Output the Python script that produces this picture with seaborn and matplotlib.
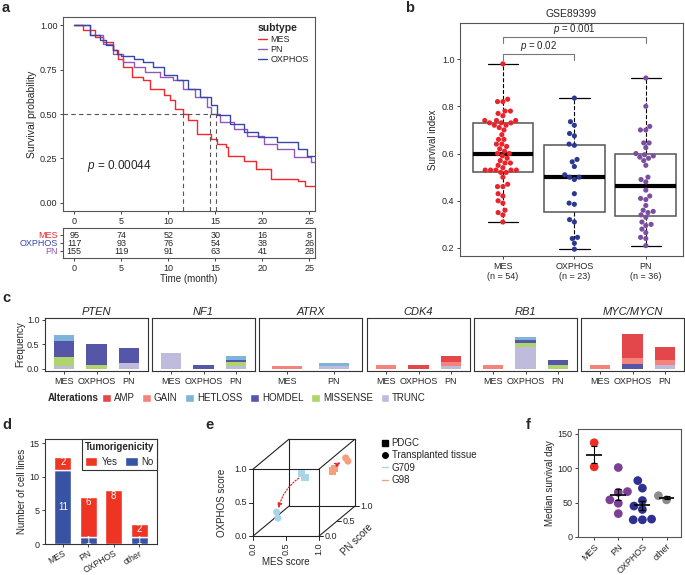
import numpy as np
import pandas as pd
import matplotlib
matplotlib.use("Agg")
import matplotlib.pyplot as plt
import seaborn as sns
from matplotlib.lines import Line2D
from matplotlib.patches import Patch

sns.set_style("ticks")
plt.rcParams["font.family"] = ["Liberation Sans", "DejaVu Sans"]
plt.rcParams["mathtext.fontset"] = "custom"
plt.rcParams["mathtext.it"] = "Liberation Sans:italic"
plt.rcParams["mathtext.rm"] = "Liberation Sans"
plt.rcParams["font.size"] = 6.5
plt.rcParams["axes.linewidth"] = 0.8
for k in ["xtick", "ytick"]:
    plt.rcParams[f"{k}.major.size"] = 2.5
    plt.rcParams[f"{k}.major.width"] = 0.6
    plt.rcParams[f"{k}.major.pad"] = 1.5
    plt.rcParams[f"{k}.labelsize"] = 6.5

# ---------------- data ----------------
# a: Kaplan-Meier curves (time in months, survival probability)
mes_t = [0, 0.96, 2.2, 3.1, 4.15, 4.7, 5.2, 6.1, 7.3, 8.05, 9.5, 10.2, 10.7, 11.6, 12.1, 13.0,
         14.5, 15.2, 16.1, 16.3, 18.1, 19.3, 20.9, 23.8, 24.5, 25.5]
mes_s = [1.0, 0.97, 0.933, 0.904, 0.858, 0.811, 0.764, 0.707, 0.689, 0.642, 0.604, 0.576, 0.53,
         0.5, 0.464, 0.389, 0.36, 0.332, 0.313, 0.266, 0.238, 0.191, 0.135, 0.125, 0.097, 0.097]
pn_t = [0, 1.67, 3.1, 4.15, 5.2, 6.3, 7.5, 9.1, 10.5, 11.6, 12.8, 14.1, 14.5, 15.5, 17.0, 18.4,
        20.2, 21.6, 23.4, 25.2, 25.5]
pn_s = [1.0, 0.942, 0.895, 0.839, 0.792, 0.764, 0.736, 0.707, 0.689, 0.642, 0.595, 0.539, 0.502,
        0.455, 0.417, 0.379, 0.332, 0.304, 0.257, 0.232, 0.232]
ox_t = [0, 1.67, 2.7, 3.4, 4.15, 4.5, 5.0, 6.3, 7.3, 8.4, 9.5, 10.9, 12.1, 13.4, 14.5, 15.2,
        16.6, 18.1, 19.5, 21.6, 23.8, 24.7, 25.5]
ox_s = [1.0, 0.942, 0.914, 0.886, 0.858, 0.839, 0.824, 0.811, 0.792, 0.764, 0.717, 0.689, 0.642,
        0.595, 0.548, 0.492, 0.445, 0.398, 0.370, 0.342, 0.304, 0.266, 0.266]
km_median = [11.6, 14.4, 15.1]
risk_times = [0, 5, 10, 15, 20, 25]
risk_mes = [95, 74, 52, 30, 16, 8]
risk_ox = [117, 93, 76, 54, 38, 26]
risk_pn = [155, 119, 91, 63, 41, 28]

# b: survival index
b_mes = [0.98, 0.83, 0.82, 0.82, 0.78, 0.78, 0.77, 0.76, 0.74, 0.74, 0.74, 0.73, 0.73, 0.73,
         0.72, 0.72, 0.71, 0.70, 0.68, 0.66, 0.66, 0.64, 0.64, 0.63, 0.62, 0.61, 0.60, 0.60, 0.59,
         0.58, 0.57, 0.56, 0.56, 0.55, 0.54, 0.53, 0.53, 0.53, 0.53, 0.53, 0.52, 0.52,
         0.50, 0.47, 0.46, 0.46, 0.43, 0.42, 0.40, 0.39, 0.36, 0.35, 0.34, 0.31]
b_ox = [0.835, 0.735, 0.72, 0.685, 0.675, 0.64, 0.635, 0.575, 0.565, 0.545, 0.51, 0.50, 0.50,
        0.49, 0.43, 0.39, 0.385, 0.32, 0.31, 0.245, 0.24, 0.22, 0.195]
b_pn = [0.92, 0.80, 0.715, 0.70, 0.70, 0.645, 0.645, 0.625, 0.60, 0.595, 0.59, 0.585, 0.58,
        0.57, 0.55, 0.50, 0.49, 0.48, 0.445, 0.42, 0.41, 0.405, 0.38, 0.36, 0.355, 0.35, 0.34,
        0.33, 0.31, 0.30, 0.295, 0.28, 0.265, 0.245, 0.24, 0.21]

# c: alteration frequencies; columns follow alt_order (stack bottom -> top)
alt_order = ["TRUNC", "MISSENSE", "HOMDEL", "HETLOSS", "GAIN", "AMP"]
legend_order = ["AMP", "GAIN", "HETLOSS", "HOMDEL", "MISSENSE", "TRUNC"]
genes = ["PTEN", "NF1", "ATRX", "CDK4", "RB1", "MYC/MYCN"]
gene_subtypes = {"PTEN": ["MES", "OXPHOS", "PN"], "NF1": ["MES", "OXPHOS", "PN"],
                 "ATRX": ["MES", "PN"], "CDK4": ["MES", "OXPHOS", "PN"],
                 "RB1": ["MES", "OXPHOS", "PN"], "MYC/MYCN": ["MES", "OXPHOS", "PN"]}
freq_PTEN = [[0.06, 0.18, 0.33, 0.12, 0, 0], [0, 0.07, 0.43, 0, 0, 0], [0.12, 0, 0.31, 0, 0, 0]]
freq_NF1 = [[0.32, 0, 0, 0, 0, 0], [0, 0, 0.08, 0, 0, 0], [0.06, 0.08, 0.05, 0.07, 0, 0]]
freq_ATRX = [[0, 0, 0, 0, 0.06, 0], [0.06, 0, 0, 0.065, 0, 0]]
freq_CDK4 = [[0, 0, 0, 0, 0.07, 0], [0, 0, 0, 0, 0, 0.08], [0.06, 0, 0, 0, 0.07, 0.13]]
freq_RB1 = [[0, 0, 0, 0, 0.07, 0], [0.45, 0.07, 0.07, 0.07, 0, 0], [0, 0.07, 0.12, 0, 0, 0]]
freq_MYC = [[0, 0, 0, 0, 0.07, 0], [0, 0, 0.09, 0, 0.13, 0.50], [0.07, 0, 0, 0, 0.12, 0.26]]
gene_freqs = {"PTEN": freq_PTEN, "NF1": freq_NF1, "ATRX": freq_ATRX, "CDK4": freq_CDK4,
              "RB1": freq_RB1, "MYC/MYCN": freq_MYC}
alt_colors = {"AMP": "#E4474B", "GAIN": "#F3837B", "HETLOSS": "#7EB3DA", "HOMDEL": "#5656A8",
              "MISSENSE": "#AED46B", "TRUNC": "#BFBBDD"}

# d: cell lines
d_groups = ["MES", "PN", "OXPHOS", "other"]
d_no = [11, 1, 0, 1]
d_yes = [2, 6, 8, 2]

# e: subtype scores (MES, PN, OXPHOS)
g709_pdgc = {"mes": [0.52, 0.57], "pn": [0.4, 0.4], "ox": [0.76, 0.70]}
g709_tissue = {"mes": [0.25, 0.27], "pn": [0.2, 0.2], "ox": [0.27, 0.18]}
g98_pdgc = {"mes": [0.82, 0.85], "pn": [0.7, 0.7], "ox": [0.66, 0.69]}
g98_tissue = {"mes": [0.97, 0.976], "pn": [0.8, 0.85], "ox": [0.81, 0.74]}

# f: median survival day
f_groups = ["MES", "PN", "OXPHOS", "other"]
f_mes = [137, 102]
f_pn = [101, 66, 65, 54, 49, 34]
f_ox = [82, 71, 53, 45, 40, 26, 25, 25]
f_other = [54, 60]

# ---------------- figure ----------------
W, H = 685, 575
fig = plt.figure(figsize=(W / 100, H / 100), dpi=100)


def add_ax(x0, y0, x1, y1):
    return fig.add_axes([x0 / W, 1 - y1 / H, (x1 - x0) / W, (y1 - y0) / H])


def frame(ax, color="#555555", lw=0.8):
    for sp in ax.spines.values():
        sp.set_visible(True)
        sp.set_color(color)
        sp.set_linewidth(lw)


def plabel(x, y, s):
    fig.text(x / W, 1 - y / H, s, fontsize=10.5, fontweight="bold", va="center", ha="left")


plabel(2, 8, "a"); plabel(405, 8, "b"); plabel(2, 298, "c")
plabel(2, 425, "d"); plabel(205, 425, "e"); plabel(526, 425, "f")

# ---- panel a ----
km_colors = {"MES": "#F2262B", "PN": "#9457B8", "OXPHOS": "#3A45A8"}
axA = add_ax(63, 17, 315, 211)
for name, t, s in [("MES", mes_t, mes_s), ("PN", pn_t, pn_s), ("OXPHOS", ox_t, ox_s)]:
    sns.lineplot(x=t, y=s, ax=axA, drawstyle="steps-post", color=km_colors[name], lw=1.0,
                 label=name)
axA.set_xlim(-1.2, 25.6)
axA.set_ylim(-0.045, 1.045)
axA.hlines(0.5, -1.2, max(km_median), colors="#555555", linestyles=(0, (4, 3)), lw=0.8)
axA.vlines(km_median, -0.045, 0.5, colors="#555555", linestyles=(0, (4, 3)), lw=0.8)
axA.set_xticks(risk_times)
axA.set_yticks([0, 0.25, 0.5, 0.75, 1.0])
axA.set_yticklabels(["0.00", "0.25", "0.50", "0.75", "1.00"])
axA.set_ylabel("Survival probability", fontsize=7.5, labelpad=2)
axA.set_xlabel("")
axA.text(1.4, 0.21, "$p$ = 0.00044", fontsize=8.5, va="center")
frame(axA)
leg = axA.legend(title="subtype", loc="upper right", frameon=False, handlelength=1.0,
                 fontsize=6.5, labelspacing=0.15, borderaxespad=0.3, handletextpad=0.4,
                 alignment="left", title_fontproperties={"weight": "bold", "size": 7.5})

axR = add_ax(63, 228, 315, 258)
axR.set_xlim(-1.2, 25.6)
axR.set_ylim(-0.875, 2.875)
for row, vals in [(2, risk_mes), (1, risk_ox), (0, risk_pn)]:
    for t, v in zip(risk_times, vals):
        axR.text(t, row, str(v), ha="center", va="center", fontsize=6.5)
axR.set_yticks([2, 1, 0])
axR.set_yticklabels(["MES", "OXPHOS", "PN"])
for lab, c in zip(axR.get_yticklabels(), [km_colors["MES"], km_colors["OXPHOS"], km_colors["PN"]]):
    lab.set_color(c)
axR.set_xticks(risk_times)
axR.set_xlabel("Time (month)", fontsize=7, labelpad=1)
frame(axR)

# ---- panel b ----
b_colors = {"MES": "#E8232A", "OXPHOS": "#2B3990", "PN": "#7B4FA0"}
b_order = ["MES", "OXPHOS", "PN"]
b_df = pd.DataFrame({"grp": ["MES"] * len(b_mes) + ["OXPHOS"] * len(b_ox) + ["PN"] * len(b_pn),
                     "val": b_mes + b_ox + b_pn})
axB = add_ax(460, 23, 683, 256)
sns.boxplot(data=b_df, x="grp", y="val", order=b_order, ax=axB, width=0.85, showfliers=False,
            color="white", linecolor="black", linewidth=1,
            boxprops=dict(facecolor="white", edgecolor="#555555", linewidth=1.1),
            medianprops=dict(color="black", linewidth=3),
            whiskerprops=dict(color="black", linestyle="--", linewidth=0.8),
            capprops=dict(color="black", linewidth=0.9))
sns.swarmplot(data=b_df, x="grp", y="val", order=b_order, hue="grp", palette=b_colors, size=3.7,
              ax=axB, legend=False, zorder=3)
axB.set_xlim(-0.6, 2.52)
axB.set_ylim(0.166, 1.153)
axB.set_yticks([0.2, 0.4, 0.6, 0.8, 1.0])
axB.set_yticklabels(["0.2", "0.4", "0.6", "0.8", "1.0"])
axB.set_xticks(range(3))
axB.set_xticklabels([f"{g}\n(n = {len(v)})" for g, v in zip(b_order, [b_mes, b_ox, b_pn])])
axB.set_xlabel("")
axB.set_ylabel("Survival index", fontsize=7, labelpad=3)
axB.set_title("GSE89399", fontsize=7.5, pad=4)
frame(axB)
brk = "#777777"
axB.plot([0, 0, 1, 1], [0.995, 1.022, 1.022, 0.995], color=brk, lw=0.8)
axB.text(0.5, 1.028, "$p$ = 0.02", ha="center", va="bottom", fontsize=7)
axB.plot([0, 0, 2, 2], [1.068, 1.093, 1.093, 1.068], color=brk, lw=0.8)
axB.text(1.0, 1.099, "$p$ = 0.001", ha="center", va="bottom", fontsize=7)

# ---- panel c ----
c_x = [45, 152, 259, 367, 474, 581]
for i, g in enumerate(genes):
    ax = add_ax(c_x[i], 318, c_x[i] + 103, 371)
    subs = gene_subtypes[g]
    fdf = pd.DataFrame(gene_freqs[g], index=subs, columns=alt_order)
    bottoms = np.zeros(len(subs))
    xs = np.arange(len(subs))
    for a in alt_order:
        vals = fdf[a].values
        ax.bar(xs, vals, bottom=bottoms, width=0.63, color=alt_colors[a], edgecolor="none")
        bottoms += vals
    ax.set_xlim(-0.6, len(subs) - 0.4)
    ax.set_ylim(-0.045, 1.04)
    ax.set_xticks(xs)
    ax.set_xticklabels(subs)
    ax.set_title(g, fontsize=8, style="italic", pad=2)
    frame(ax, "#333333", 0.8)
    if i == 0:
        ax.set_yticks([0, 0.5, 1.0])
        ax.set_yticklabels(["0.0", "0.5", "1.0"])
        ax.set_ylabel("Frequency", fontsize=7, labelpad=1)
    else:
        ax.set_yticks([])
fig.text(48 / W, 1 - 398 / H, "Alterations", fontsize=7, fontweight="bold", va="center")
fig.legend([Patch(facecolor=alt_colors[a]) for a in legend_order], legend_order, ncol=6,
           loc="center left", bbox_to_anchor=(102 / W, 1 - 398 / H), frameon=False,
           handlelength=0.9, handleheight=0.9, columnspacing=0.8, handletextpad=0.3,
           fontsize=7, borderaxespad=0, borderpad=0)

# ---- panel d ----
d_red, d_blue = "#EE3524", "#3953A4"
axD = add_ax(45, 439, 157, 544)
d_df = pd.DataFrame({"group": d_groups, "No": d_no, "Yes": d_yes})
sns.barplot(data=d_df, x="group", y="No", ax=axD, color=d_blue, width=0.68, saturation=1)
xs = np.arange(len(d_groups))
axD.bar(xs, d_df["Yes"], bottom=d_df["No"], width=0.68, color=d_red)
for x, n, y in zip(xs, d_df["No"], d_df["Yes"]):
    if n > 0:
        axD.text(x, n / 2, str(n), ha="center", va="center", color="white", fontsize=7)
    if y > 0:
        axD.text(x, n + y - 0.8, str(y), ha="center", va="center", color="white", fontsize=7)
axD.set_xlim(-0.7, 3.7)
axD.set_ylim(0, 15.6)
axD.set_yticks([0, 5, 10, 15])
axD.set_xlabel("")
axD.set_ylabel("Number of cell lines", fontsize=7, labelpad=2)
axD.set_xticks(xs)
axD.set_xticklabels(d_groups, rotation=30, ha="right", rotation_mode="anchor", fontsize=6.2)
axD.tick_params(axis="x", pad=1)
frame(axD, "#333333")
lgD = axD.legend([Patch(facecolor=d_red), Patch(facecolor=d_blue)], ["Yes", "No"], ncol=2,
                 title="Tumorigenicity", loc="upper right", borderaxespad=0, fontsize=7,
                 handlelength=1.3, handleheight=1.1, columnspacing=0.8, handletextpad=0.4,
                 title_fontproperties={"weight": "bold", "size": 7}, fancybox=False,
                 edgecolor="#333333", framealpha=1, borderpad=0.3)
lgD.get_frame().set_linewidth(0.8)

# ---- panel e ----
DX, DY = 0.545, 0.448


def proj(mes, pn, ox):
    mes, pn, ox = np.asarray(mes, float), np.asarray(pn, float), np.asarray(ox, float)
    return mes + DX * pn, ox + DY * pn


axE = add_ax(220, 425, 470, 575)
axE.set_xlim(-0.5, 3.29)
axE.set_ylim(-0.58, 1.66)
axE.axis("off")
corners = [(a, b, c) for a in (0, 1) for b in (0, 1) for c in (0, 1)]
for p in corners:
    for q in corners:
        if p < q and sum(abs(np.subtract(p, q))) == 1:
            x, y = proj([p[0], q[0]], [p[1], q[1]], [p[2], q[2]])
            axE.plot(x, y, color="#222222", lw=0.8)
ticks = [0, 0.5, 1.0]
for v in ticks:
    x, y = proj(0, 0, v)
    axE.plot([x - 0.06, x], [y, y], color="#222222", lw=0.7)
    axE.text(x - 0.09, y, f"{v:.1f}", ha="right", va="center", fontsize=6.5)
    x, y = proj(v, 0, 0)
    axE.plot([x, x], [y - 0.06, y], color="#222222", lw=0.7)
    axE.text(x, y - 0.09, f"{v:.1f}", ha="center", va="top", rotation=90, fontsize=6.5)
    x, y = proj(1, v, 0)
    axE.plot([x, x + 0.06], [y, y], color="#222222", lw=0.7)
    axE.text(x + 0.08, y, f"{v:.1f}", ha="left", va="center", fontsize=6.5)
axE.text(-0.47, 0.5, "OXPHOS score", rotation=90, ha="center", va="center", fontsize=7)
xm, ym = proj(0.5, 0, 0)
axE.text(xm, -0.39, "MES score", ha="center", va="center", fontsize=7)
axE.text(1.58, -0.05, "PN score", rotation=45, ha="center", va="center", fontsize=7)
c709, c98 = "#A8D5E8", "#F4A07E"
for dset, col, mk in [(g709_pdgc, c709, "s"), (g709_tissue, c709, "o"),
                      (g98_pdgc, c98, "s"), (g98_tissue, c98, "o")]:
    x, y = proj(dset["mes"], dset["pn"], dset["ox"])
    sns.scatterplot(x=x, y=y, ax=axE, color=col, marker=mk, s=26, edgecolor="none", zorder=3)
for src, dst, rad in [(g709_pdgc, g709_tissue, 0.25), (g98_pdgc, g98_tissue, -0.2)]:
    xs0, ys0 = proj(np.mean(src["mes"]), np.mean(src["pn"]), np.mean(src["ox"]))
    xs1, ys1 = proj(np.mean(dst["mes"]), np.mean(dst["pn"]), np.mean(dst["ox"]))
    axE.annotate("", xy=(xs1, ys1), xytext=(xs0, ys0),
                 arrowprops=dict(arrowstyle="-|>", color="#E8232A", lw=0.9, linestyle=(0, (1, 1.5)),
                                 connectionstyle=f"arc3,rad={rad}", shrinkA=4, shrinkB=5,
                                 mutation_scale=7), zorder=4)
axE.legend([Line2D([], [], marker="s", color="black", ls="none", ms=4),
            Line2D([], [], marker="o", color="black", ls="none", ms=4),
            Line2D([], [], color=c709, lw=1),
            Line2D([], [], color=c98, lw=1)],
           ["PDGC", "Transplanted tissue", "G709", "G98"], loc="upper left",
           bbox_to_anchor=((382 - 220) / 250, (575 - 438) / 150), frameon=False, fontsize=7,
           handlelength=0.6, handletextpad=0.4, labelspacing=0.25, borderaxespad=0, borderpad=0)

# ---- panel f ----
f_colors = {"MES": "#EE2E24", "PN": "#7B3F98", "OXPHOS": "#2E3192", "other": "#8C8C8C"}
f_vals = [f_mes, f_pn, f_ox, f_other]
f_df = pd.DataFrame({"grp": sum([[g] * len(v) for g, v in zip(f_groups, f_vals)], []),
                     "val": sum(f_vals, [])})
axF = add_ax(578, 429, 681, 537)
sns.swarmplot(data=f_df, x="grp", y="val", order=f_groups, hue="grp", palette=f_colors,
              size=6.3, ax=axF, legend=False, zorder=2)
for i, v in enumerate(f_vals):
    m = np.mean(v)
    se = np.std(v) / np.sqrt(len(v))
    axF.hlines(m, i - 0.33, i + 0.33, colors="black", lw=1.2, zorder=4)
    axF.errorbar(i, m, yerr=se, color="black", lw=0.8, capsize=2.5, capthick=0.8, zorder=4)
axF.set_xlim(-0.67, 3.6)
axF.set_ylim(0, 157)
axF.set_yticks([0, 50, 100, 150])
axF.set_xlabel("")
axF.set_ylabel("Median survival day", fontsize=7, labelpad=2)
axF.set_xticks(range(4))
axF.set_xticklabels(f_groups, rotation=45, ha="right", rotation_mode="anchor")
axF.tick_params(axis="x", pad=1)
frame(axF, "#555555")

fig.savefig("out.png", dpi=100)
